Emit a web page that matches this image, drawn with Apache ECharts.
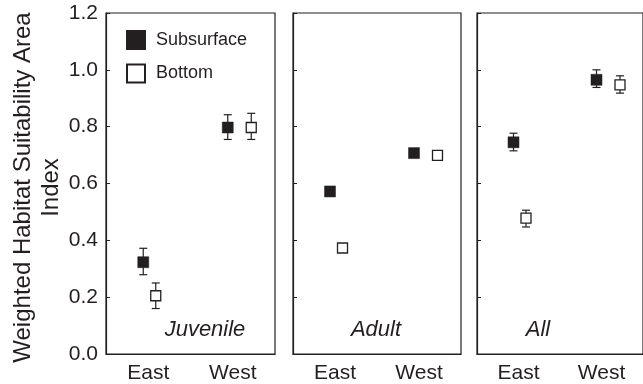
<!DOCTYPE html>
<html>
<head>
<meta charset="utf-8">
<script src="https://cdn.jsdelivr.net/npm/echarts@6/dist/echarts.min.js"></script>
<style>html,body{margin:0;padding:0;background:#fff}#c{width:643px;height:384px}</style>
</head>
<body>
<div id="c"></div>
<script>
// ---- data ----
const categories = ['East', 'West'];
const panelNames = ['Juvenile', 'Adult', 'All'];
const yTicks = [0, 0.2, 0.4, 0.6, 0.8, 1.0, 1.2];

const juvenileSubsurface = [0.323, 0.797];
const juvenileSubsurfaceLow = [0.279, 0.755];
const juvenileSubsurfaceHigh = [0.372, 0.842];
const juvenileBottom = [0.205, 0.797];
const juvenileBottomLow = [0.160, 0.755];
const juvenileBottomHigh = [0.250, 0.847];

const adultSubsurface = [0.572, 0.707];
const adultBottom = [0.373, 0.699];

const allSubsurface = [0.745, 0.965];
const allSubsurfaceLow = [0.715, 0.938];
const allSubsurfaceHigh = [0.777, 1.000];
const allBottom = [0.478, 0.947];
const allBottomLow = [0.447, 0.918];
const allBottomHigh = [0.506, 0.979];

// ---- styles ----
const ink = '#231f20';
const font = '"Liberation Sans", Arial, Helvetica, sans-serif';
const subOffsetPx = [-5, -5];
const botOffsetPx = [7.5, 18.5];
const grids = [
  { left: 106, top: 13, width: 169, height: 341 },
  { left: 293, top: 13, width: 168, height: 341 },
  { left: 477, top: 13, width: 169, height: 341 }
];

const chart = echarts.init(document.getElementById('c'), null, { renderer: 'canvas' });

const xAxes = grids.map((g, i) => ({
  type: 'category', gridIndex: i, data: categories, boundaryGap: true,
  axisLine: { lineStyle: { color: ink, width: 1.2 } },
  axisTick: { inside: true, alignWithLabel: true, length: 4, lineStyle: { color: ink } },
  axisLabel: { color: ink, fontSize: 21, fontFamily: font, margin: 9 },
  splitLine: { show: false }
}));

const yAxes = grids.map((g, i) => ({
  type: 'value', gridIndex: i, min: 0, max: 1.2, interval: 0.2,
  axisLine: { show: true, lineStyle: { color: ink, width: 1.2 } },
  axisTick: { show: true, inside: true, length: 4, lineStyle: { color: ink } },
  axisLabel: { show: i === 0, color: ink, fontSize: 21, fontFamily: font, margin: 8,
    formatter: v => v.toFixed(1) },
  splitLine: { show: false },
  name: i === 0 ? 'Weighted Habitat Suitability Area\nIndex' : '',
  nameLocation: 'middle', nameGap: 40,
  nameTextStyle: { color: ink, fontSize: 24, fontFamily: font, lineHeight: 28, padding: [0, 8, 0, 0] }
}));

function pts(vals, offs) {
  return vals.map((v, k) => ({ value: [categories[k], v], symbolOffset: [offs[k], 0] }));
}

function scatter(name, gi, vals, filled, offs) {
  return {
    type: 'scatter', name, xAxisIndex: gi, yAxisIndex: gi, z: 3,
    symbol: 'rect', symbolSize: filled ? 11 : 10,
    itemStyle: filled ? { color: ink, borderColor: ink, borderWidth: 0.5, opacity: 1 }
                      : { color: '#fff', borderColor: ink, borderWidth: 1.3, opacity: 1 },
    data: pts(vals, offs)
  };
}

function errBars(gi, low, high, offs) {
  return {
    type: 'custom', xAxisIndex: gi, yAxisIndex: gi, z: 2, silent: true,
    data: low.map((l, k) => [k, l, high[k], offs[k]]),
    renderItem: (params, api) => {
      const k = api.value(0);
      const lo = api.coord([k, api.value(1)]);
      const hi = api.coord([k, api.value(2)]);
      const x = lo[0] + api.value(3);
      const cw = 4;
      const st = { stroke: ink, lineWidth: 1.2, fill: null };
      return { type: 'group', children: [
        { type: 'line', shape: { x1: x, y1: lo[1], x2: x, y2: hi[1] }, style: st },
        { type: 'line', shape: { x1: x - cw, y1: lo[1], x2: x + cw, y2: lo[1] }, style: st },
        { type: 'line', shape: { x1: x - cw, y1: hi[1], x2: x + cw, y2: hi[1] }, style: st }
      ]};
    }
  };
}

const series = [
  errBars(0, juvenileSubsurfaceLow, juvenileSubsurfaceHigh, subOffsetPx),
  errBars(0, juvenileBottomLow, juvenileBottomHigh, botOffsetPx),
  scatter('Subsurface', 0, juvenileSubsurface, true, subOffsetPx),
  scatter('Bottom', 0, juvenileBottom, false, botOffsetPx),
  scatter('Subsurface', 1, adultSubsurface, true, subOffsetPx),
  scatter('Bottom', 1, adultBottom, false, botOffsetPx),
  errBars(2, allSubsurfaceLow, allSubsurfaceHigh, subOffsetPx),
  errBars(2, allBottomLow, allBottomHigh, botOffsetPx),
  scatter('Subsurface', 2, allSubsurface, true, subOffsetPx),
  scatter('Bottom', 2, allBottom, false, botOffsetPx)
];

const labelPos = [[205, 330], [376, 330], [538, 330]];

chart.setOption({
  animation: false,
  backgroundColor: '#fff',
  grid: grids.map(g => Object.assign({ show: true, borderColor: ink, borderWidth: 1.2, backgroundColor: 'transparent' }, g)),
  xAxis: xAxes,
  yAxis: yAxes,
  legend: {
    data: ['Subsurface', 'Bottom'], orient: 'vertical', left: 126, top: 30, padding: 0,
    itemWidth: 18, itemHeight: 18, itemGap: 13.5,
    icon: 'rect',
    textStyle: { color: ink, fontSize: 18, fontFamily: font, padding: [0, 0, 0, 6] },
    selectedMode: false
  },
  graphic: panelNames.map((n, i) => ({
    type: 'text', x: labelPos[i][0], y: labelPos[i][1], silent: true,
    style: { text: n, fill: ink, font: 'italic 22px ' + font, textAlign: 'center', textVerticalAlign: 'middle' }
  })),
  series
});
</script>
</body>
</html>
